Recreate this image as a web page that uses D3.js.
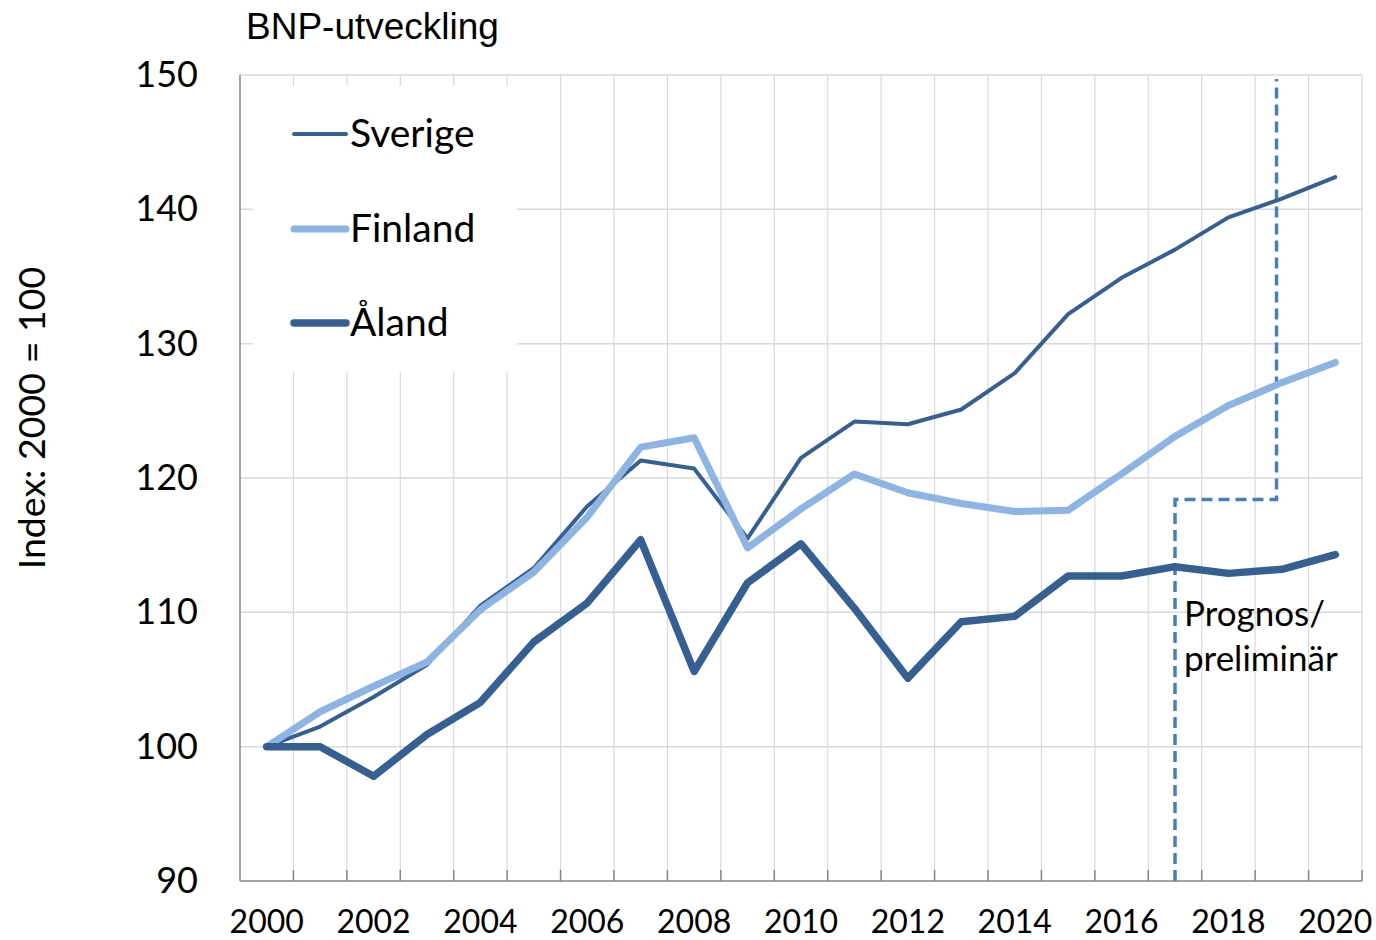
<!DOCTYPE html>
<html><head><meta charset="utf-8">
<script src="https://cdn.jsdelivr.net/npm/d3@7/dist/d3.min.js"></script>
<style>body{margin:0;background:#fff}svg{display:block}</style>
</head><body>
<svg id="c" width="1376" height="940"></svg>
<script>
const years = d3.range(2000, 2021);
const tickYears = [2000,2002,2004,2006,2008,2010,2012,2014,2016,2018,2020];
const yTicks = [90,100,110,120,130,140,150];
const sverige = [100,101.5,103.7,106.1,110.5,113.3,117.9,121.3,120.7,115.5,121.5,124.2,124.0,125.1,127.8,132.2,134.9,137.0,139.4,140.8,142.4];
const finland = [100,102.6,104.5,106.3,110.2,113.0,117.1,122.3,123.0,114.8,117.7,120.3,118.9,118.1,117.5,117.6,120.3,123.1,125.4,127.1,128.6];
const aland = [100,100,97.8,100.9,103.3,107.8,110.7,115.4,105.6,112.2,115.1,110.3,105.1,109.3,109.7,112.7,112.7,113.4,112.9,113.2,114.3];
const seriesNames = ["Sverige","Finland","Åland"];
const prognosX = [2017, 2018.9];
const prognosY = [90, 118.4, 149.7];

const svg = d3.select("#c");
const L=240, R=1362, T=75, B=881;
const x = d3.scaleBand().domain(years).range([L,R]).padding(0);
const xl = d3.scaleLinear().domain([1999.5,2020.5]).range([L,R]);
const y = d3.scaleLinear().domain([90,150]).range([B,T]);
const cx = d => x(d)+x.bandwidth()/2;

const grid="#d9d9d9";
svg.append("g").selectAll("line").data(yTicks.filter(v=>v>90)).join("line")
  .attr("x1",L).attr("x2",R).attr("y1",d=>y(d)).attr("y2",d=>y(d))
  .attr("stroke",grid).attr("stroke-width",1.5);
const bounds = years.slice(1).map(d=>x(d)).concat([R]);
svg.append("g").selectAll("line").data(bounds).join("line")
  .attr("x1",d=>d).attr("x2",d=>d).attr("y1",T).attr("y2",B)
  .attr("stroke",grid).attr("stroke-width",1.2);

svg.append("rect").attr("x",253).attr("y",86).attr("width",264).attr("height",286).attr("fill","#fff");

svg.append("line").attr("x1",L).attr("x2",L).attr("y1",T).attr("y2",B).attr("stroke","#868686").attr("stroke-width",1.5);
svg.append("line").attr("x1",L).attr("x2",R).attr("y1",B).attr("y2",B).attr("stroke","#868686").attr("stroke-width",1.5);
svg.append("g").selectAll("line").data(bounds).join("line")
  .attr("x1",d=>d).attr("x2",d=>d).attr("y1",B-11).attr("y2",B)
  .attr("stroke","#868686").attr("stroke-width",1.5);

svg.append("g").selectAll("text").data(yTicks).join("text")
  .attr("x",198).attr("y",d=>y(d)+12).attr("text-anchor","end")
  .attr("font-family","Lato").attr("font-size",36).attr("fill","#000").text(d=>d);
svg.append("g").selectAll("text").data(tickYears).join("text")
  .attr("x",d=>cx(d)).attr("y",933).attr("text-anchor","middle")
  .attr("font-family","Lato").attr("font-size",32).attr("fill","#000").text(d=>d);

svg.append("text").attr("x",246).attr("y",39).attr("font-family","Liberation Sans, Arial").attr("font-size",37).attr("fill","#000").text("BNP-utveckling");
svg.append("text").attr("transform","translate(45,418) rotate(-90)").attr("text-anchor","middle")
  .attr("font-family","Lato").attr("font-size",37.5).attr("fill","#000").text("Index: 2000 = 100");

const dpts = [[prognosX[0],prognosY[0]],[prognosX[0],prognosY[1]],[prognosX[1],prognosY[1]],[prognosX[1],prognosY[2]]];
svg.append("path").attr("d", d3.line().x(d=>xl(d[0])).y(d=>y(d[1]))(dpts))
  .attr("fill","none").attr("stroke","#4a7ebb").attr("stroke-width",3.5).attr("stroke-dasharray","11,6");

const styles = [
  {data:sverige, color:"#376092", w:4},
  {data:finland, color:"#8eb4e3", w:7},
  {data:aland, color:"#376092", w:7.5}
];
const line = d3.line().x((d,i)=>cx(years[i])).y(d=>y(d));
styles.forEach(s=>{
  svg.append("path").attr("d",line(s.data)).attr("fill","none")
    .attr("stroke",s.color).attr("stroke-width",s.w)
    .attr("stroke-linejoin","round").attr("stroke-linecap","round");
});

const ly = [134,229,323];
styles.forEach((s,i)=>{
  svg.append("line").attr("x1",294).attr("x2",346).attr("y1",ly[i]).attr("y2",ly[i])
    .attr("stroke",s.color).attr("stroke-width",s.w).attr("stroke-linecap","round");
  svg.append("text").attr("x",350).attr("y",ly[i]+13).attr("font-family","Lato").attr("font-size",39)
    .attr("fill","#000").text(seriesNames[i]);
});

svg.append("text").attr("x",1184).attr("y",626).attr("font-family","Lato").attr("font-size",35).attr("fill","#000").text("Prognos/");
svg.append("text").attr("x",1184).attr("y",671).attr("font-family","Lato").attr("font-size",35).attr("fill","#000").text("preliminär");
</script>
</body></html>
